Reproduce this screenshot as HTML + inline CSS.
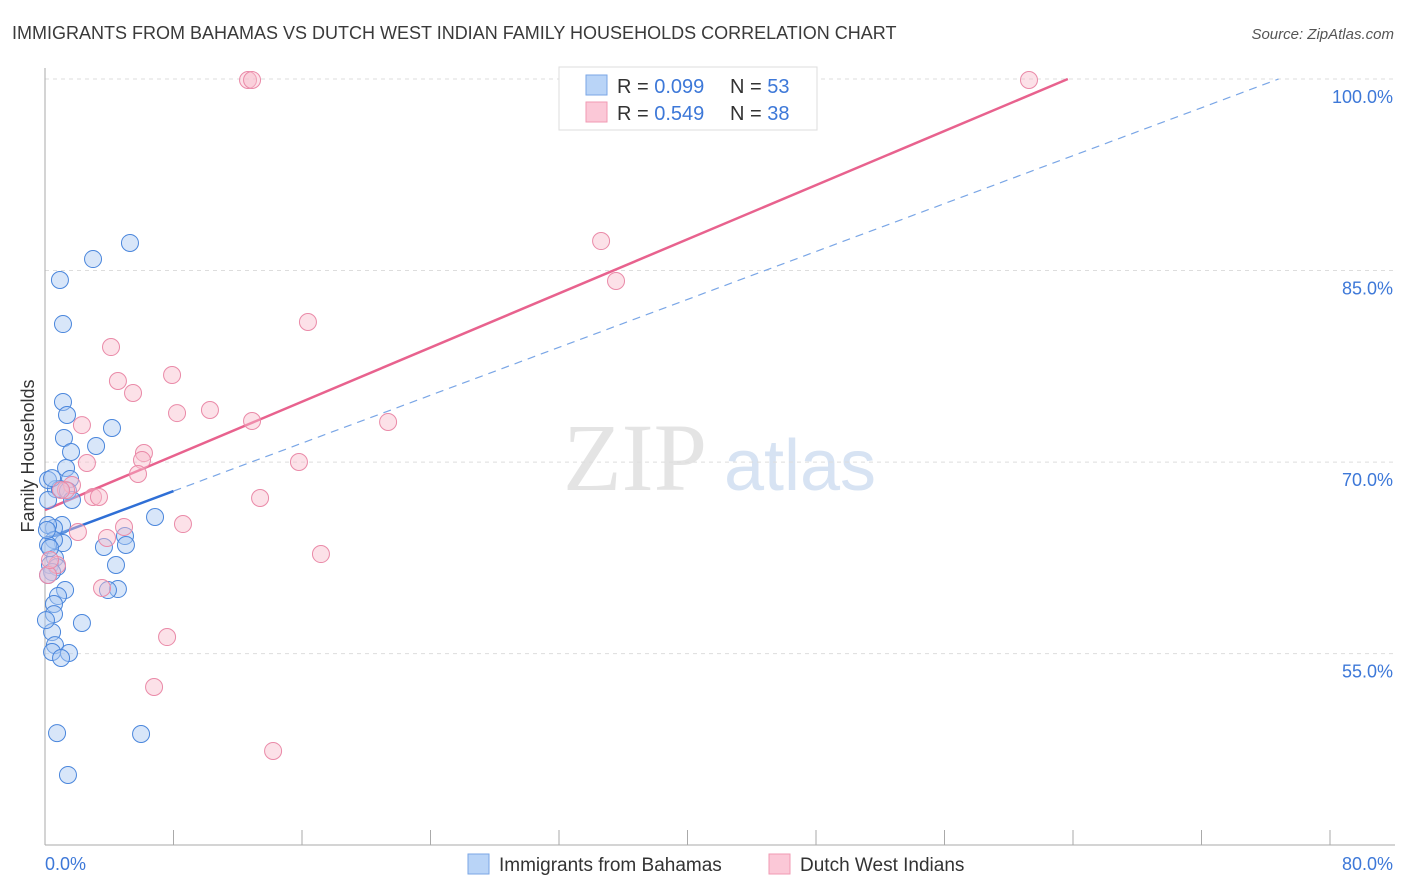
<!DOCTYPE html>
<html><head><meta charset="utf-8"><style>
body{margin:0;background:#fff;font-family:"Liberation Sans",sans-serif;}
svg{display:block}
</style></head><body>
<svg id="chart" width="1406" height="892" viewBox="0 0 1406 892" xmlns="http://www.w3.org/2000/svg">
<text x="12" y="39" font-size="18" fill="#3a3a3a">IMMIGRANTS FROM BAHAMAS VS DUTCH WEST INDIAN FAMILY HOUSEHOLDS CORRELATION CHART</text>
<text x="1394" y="39" font-size="15" fill="#555" font-style="italic" text-anchor="end">Source: ZipAtlas.com</text>
<g>
<text x="635" y="490" font-size="96" fill="#e4e4e4" font-family="Liberation Serif,serif" text-anchor="middle">ZIP</text>
<text x="800" y="490" font-size="72" fill="#d7e3f3" text-anchor="middle">atlas</text>
</g>
<text transform="translate(34,456) rotate(-90)" font-size="18" fill="#333" text-anchor="middle">Family Households</text>
<g id="grid"></g><g id="lines"></g><g id="points"></g>
<g>
<rect x="559" y="67" width="258" height="63" fill="#fff" stroke="#ddd"/>
<rect x="586" y="75" width="21" height="20" fill="#b9d4f7" stroke="#7aa6e6"/>
<rect x="586" y="102" width="21" height="20" fill="#fbc8d7" stroke="#f09ab3"/>
<text x="617" y="93" font-size="20" fill="#333">R = <tspan fill="#3d78d8">0.099</tspan><tspan x="730">N = </tspan><tspan fill="#3d78d8">53</tspan></text>
<text x="617" y="120" font-size="20" fill="#333">R = <tspan fill="#3d78d8">0.549</tspan><tspan x="730">N = </tspan><tspan fill="#3d78d8">38</tspan></text>
</g>
<g>
<rect x="468" y="854" width="21" height="20" fill="#b9d4f7" stroke="#7aa6e6"/>
<text x="499" y="871" font-size="19" fill="#333">Immigrants from Bahamas</text>
<rect x="769" y="854" width="21" height="20" fill="#fbc8d7" stroke="#f09ab3"/>
<text x="800" y="871" font-size="19" fill="#333">Dutch West Indians</text>
</g>
</svg>
<script>
const yTicks=[55,70,85,100];
const xTickCount=10;
const blueX=[5.29,2.99,0.93,1.12,1.12,1.37,1.18,3.18,4.17,1.62,1.31,1.56,0.68,0.93,1.43,1.68,0.19,0.44,1.06,0.56,0.19,6.85,1.12,0.56,0.19,3.67,4.98,5.04,0.62,0.31,0.75,4.42,0.44,0.19,1.25,4.54,3.92,0.81,0.56,0.56,2.3,0.44,0.62,0.44,1.49,1.0,0.75,5.98,1.43,0.19,0.12,0.31,0.06];
const blueY=[87.16,85.9,84.26,80.81,74.71,73.69,71.89,71.26,72.67,70.79,69.54,68.68,67.89,67.89,67.74,67.03,68.6,68.75,65.07,64.84,65.07,65.7,63.66,63.9,63.51,63.35,64.21,63.51,62.49,61.94,61.78,61.94,61.39,61.16,59.98,60.06,59.98,59.51,58.89,58.1,57.4,56.69,55.67,55.13,55.05,54.66,48.78,48.71,45.5,67.03,64.68,63.27,57.63];
const pinkX=[12.64,12.89,61.26,34.62,35.55,16.37,4.11,4.54,5.48,7.91,8.22,10.27,12.89,21.36,2.3,2.61,6.16,6.04,5.79,15.81,13.39,2.99,3.36,1.68,1.31,1.0,8.59,4.92,2.05,3.86,17.18,3.55,0.75,0.19,7.6,6.79,14.2,0.31];
const pinkY=[99.92,99.92,99.92,87.31,84.18,80.97,79.01,76.35,75.41,76.82,73.84,74.08,73.22,73.14,72.9,69.93,70.71,70.16,69.07,70.01,67.19,67.27,67.27,68.21,67.81,67.81,65.15,64.92,64.53,64.06,62.8,60.14,61.94,61.16,56.3,52.39,47.38,62.33];
const blueFit=[63.98,0.469];
const pinkFit=[66.25,0.530];
const NS="http://www.w3.org/2000/svg";
const X0=45,X1=1330,Y100=79,PXPCT=12.77;
const sx=v=>X0+(X1-X0)*v/80;
const sy=v=>Y100+(100-v)*PXPCT;
function mk(t,a,p){const e=document.createElementNS(NS,t);for(const k in a)e.setAttribute(k,a[k]);p.appendChild(e);return e;}
const grid=document.getElementById('grid');
yTicks.forEach(t=>{
 const l=mk('line',{x1:45,x2:1395,y1:sy(t),y2:sy(t),stroke:'#ddd','stroke-dasharray':'4,4'},grid);
 
 
 const tx=mk('text',{x:1393,y:sy(t)+24,'font-size':18,fill:'#3d78d8','text-anchor':'end'},grid);
 tx.textContent=t.toFixed(1)+'%';
 
 
});
const ax=mk('line',{x1:45,x2:45,y1:68,y2:845,stroke:'#aaa'},grid);


const bx=mk('line',{x1:45,x2:1395,y1:845,y2:845,stroke:'#aaa'},grid);


for(let i=1;i<=xTickCount;i++){
 const t=mk('line',{x1:sx(i*8),x2:sx(i*8),y1:830,y2:845,stroke:'#aaa'},grid);
 
 
}
[[0,'0.0%','start',45],[80,'80.0%','end',1393]].forEach(d=>{
 const t=mk('text',{x:d[3],y:870,'font-size':18,fill:'#3d78d8','text-anchor':d[2]},grid);
 t.textContent=d[1];
 
 
});
const pts=document.getElementById('points');
function drawPts(xs,ys,fill,stroke,name){
 xs.forEach((x,i)=>{
  const c=mk('circle',{cx:sx(x),cy:sy(ys[i]),r:8.5,fill:fill,'fill-opacity':0.45,stroke:stroke,'stroke-width':1},pts);
  
  
 });
}
drawPts(blueX,blueY,'#a9c8f2','#4a86dc','point-bahamas');
drawPts(pinkX,pinkY,'#f8bccd','#ea8aa8','point-dutch');
const lines=document.getElementById('lines');
const f=(fit,x)=>fit[0]+fit[1]*x;
const bxEnd=(100-blueFit[0])/blueFit[1];
const b1=mk('line',{x1:sx(0),y1:sy(f(blueFit,0)),x2:sx(8),y2:sy(f(blueFit,8)),stroke:'#2f6fd6','stroke-width':2.5},lines);


const b2=mk('line',{x1:sx(8),y1:sy(f(blueFit,8)),x2:sx(bxEnd),y2:sy(100),stroke:'#7aa6e6','stroke-width':1.2,'stroke-dasharray':'8,6'},lines);


const pxEnd=(100-pinkFit[0])/pinkFit[1];
const p1=mk('line',{x1:sx(0),y1:sy(f(pinkFit,0)),x2:sx(pxEnd),y2:sy(100),stroke:'#e8628e','stroke-width':2.5},lines);


</script>
</body></html>
